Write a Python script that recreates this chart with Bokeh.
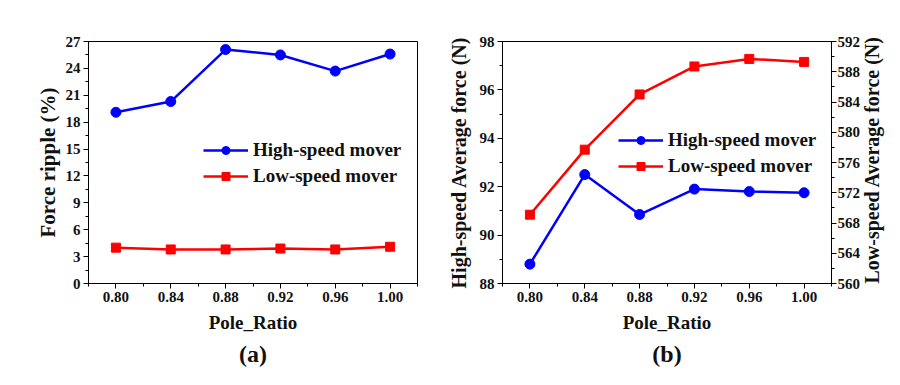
import math
from bokeh.plotting import figure
from bokeh.layouts import row
from bokeh.models import (Range1d, LinearAxis, FixedTicker, SingleIntervalTicker,
                          NumeralTickFormatter, Legend, LegendItem, Title)
from bokeh.embed import file_html
from bokeh.resources import INLINE

pole_ratio = [0.80, 0.84, 0.88, 0.92, 0.96, 1.00]
x_ticks = [0.80, 0.84, 0.88, 0.92, 0.96, 1.00]
x_minor = [0.78, 0.82, 0.86, 0.90, 0.94, 0.98, 1.02]

ripple_high = [19.1, 20.3, 26.1, 25.5, 23.7, 25.6]
ripple_low = [4.0, 3.8, 3.8, 3.9, 3.8, 4.1]

force_high = [88.8, 92.5, 90.85, 91.9, 91.8, 91.75]
force_low = [569.1, 577.7, 585.0, 588.7, 589.7, 589.3]

FONT = "Liberation Serif"
BLUE = "#0000FF"
RED = "#FF0000"
TXT = "#111111"


def style_axis(ax, label_standoff, title_standoff, title_size="20px"):
    ax.axis_label_text_font = FONT
    ax.axis_label_text_font_style = "bold"
    ax.axis_label_text_font_size = title_size
    ax.axis_label_text_color = TXT
    ax.axis_label_standoff = title_standoff
    ax.major_label_text_font = FONT
    ax.major_label_text_font_style = "bold"
    ax.major_label_text_font_size = "15px"
    ax.major_label_text_color = TXT
    ax.major_label_standoff = label_standoff
    ax.major_tick_in = 0
    ax.major_tick_out = 5
    ax.minor_tick_in = 0
    ax.minor_tick_out = 3
    ax.axis_line_color = "black"
    ax.major_tick_line_color = "black"
    ax.minor_tick_line_color = "black"


def make_fig(width, mbl, mbr, y0, y1):
    p = figure(width=width, height=385, output_backend="svg", toolbar_location=None,
               x_range=Range1d(0.78, 1.02), y_range=Range1d(y0, y1),
               min_border_left=mbl, min_border_right=mbr,
               min_border_top=41, min_border_bottom=102)
    p.xgrid.visible = False
    p.ygrid.visible = False
    p.outline_line_color = "black"
    p.outline_line_width = 1
    p.background_fill_color = "white"
    p.border_fill_color = "white"
    p.xaxis.ticker = FixedTicker(ticks=x_ticks, minor_ticks=x_minor)
    p.xaxis.formatter = NumeralTickFormatter(format="0.00")
    p.xaxis.axis_label = "Pole_Ratio"
    style_axis(p.xaxis[0], 3, 7, "19px")
    return p


def legend_for(p, items, loc):
    lg = Legend(items=items, location=loc, background_fill_alpha=0,
                border_line_alpha=0, padding=0, margin=0, spacing=4,
                glyph_width=45, glyph_height=20, label_height=20,
                label_standoff=5,
                label_text_font=FONT, label_text_font_style="bold",
                label_text_font_size="19px", label_text_color=TXT)
    p.add_layout(lg)


def panel_title(p, text):
    t = Title(text=text, align="center", text_font=FONT, text_font_style="bold",
              text_font_size="24px", text_color=TXT, standoff=6)
    p.add_layout(t, "below")


# ---------- (a) ----------
p1 = make_fig(440, 88, 23, 0, 27)
p1.yaxis.ticker = SingleIntervalTicker(interval=3, num_minor_ticks=2)
p1.yaxis.axis_label = "Force ripple (%)"
style_axis(p1.yaxis[0], 3, 3, "21px")

l1 = p1.line(pole_ratio, ripple_high, line_color=BLUE, line_width=2.5)
s1 = p1.scatter(pole_ratio, ripple_high, marker="circle", size=10, color=BLUE)
l2 = p1.line(pole_ratio, ripple_low, line_color=RED, line_width=2.5)
s2 = p1.scatter(pole_ratio, ripple_low, marker="square", size=9, color=RED)
legend_for(p1, [LegendItem(label="High-speed mover", renderers=[l1, s1]),
                LegendItem(label="Low-speed mover", renderers=[l2, s2])], (115, 96))
panel_title(p1, "(a)")

# ---------- (b) ----------
p2 = make_fig(460, 62, 69, 88, 98)
p2.extra_y_ranges = {"low": Range1d(560, 592)}
p2.yaxis.ticker = SingleIntervalTicker(interval=2, num_minor_ticks=2)
p2.yaxis.axis_label = "High-speed Average force (N)"
style_axis(p2.yaxis[0], 3, 7)
rax = LinearAxis(y_range_name="low", axis_label="Low-speed Average force (N)",
                 ticker=SingleIntervalTicker(interval=4, num_minor_ticks=2))
style_axis(rax, 1, 9)
rax.axis_label_orientation = math.pi / 2
rax.axis_label_align = "start"
p2.add_layout(rax, "right")

m1 = p2.line(pole_ratio, force_high, line_color=BLUE, line_width=2.5)
n1 = p2.scatter(pole_ratio, force_high, marker="circle", size=10, color=BLUE)
m2 = p2.line(pole_ratio, force_low, line_color=RED, line_width=2.5, y_range_name="low")
n2 = p2.scatter(pole_ratio, force_low, marker="square", size=9, color=RED, y_range_name="low")
legend_for(p2, [LegendItem(label="High-speed mover", renderers=[m1, n1]),
                LegendItem(label="Low-speed mover", renderers=[m2, n2])], (116, 106))
panel_title(p2, "(b)")

layout = row(p1, p2)
open("out.html", "w").write(file_html(layout, INLINE))
